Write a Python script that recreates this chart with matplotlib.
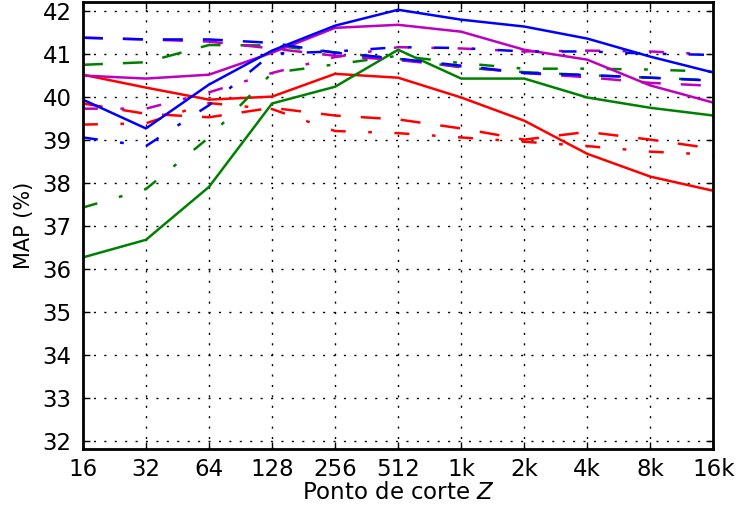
import matplotlib
matplotlib.use("Agg")
import matplotlib.pyplot as plt
import numpy as np

# cut points Z
xlabels = ["16", "32", "64", "128", "256", "512", "1k", "2k", "4k", "8k", "16k"]

# MAP (%) per run
red_solid = [40.51, 40.21, 39.93, 40.0, 40.53, 40.44, 39.98, 39.44, 38.67, 38.14, 37.81]
red_dashed = [39.84, 39.6, 39.52, 39.74, 39.56, 39.47, 39.26, 39.0, 39.18, 39.0, 38.79]
red_dashdot = [39.35, 39.38, 39.85, 39.71, 39.2, 39.15, 39.05, 38.95, 38.85, 38.72, 38.65]

green_solid = [36.26, 36.67, 37.9, 39.84, 40.23, 41.09, 40.42, 40.42, 39.98, 39.74, 39.56]
green_dashed = [40.74, 40.8, 41.2, 41.19, 41.03, 40.88, 40.68, 40.57, 40.5, 40.44, 40.38]
green_dashdot = [37.42, 37.85, 39.05, 40.55, 40.75, 40.95, 40.78, 40.65, 40.65, 40.63, 40.58]

magenta_solid = [40.49, 40.42, 40.51, 41.02, 41.6, 41.67, 41.51, 41.09, 40.86, 40.26, 39.86]
magenta_dashed = [41.37, 41.33, 41.28, 41.12, 40.95, 40.85, 40.7, 40.55, 40.45, 40.32, 40.25]
magenta_dashdot = [39.72, 39.72, 40.1, 40.55, 40.92, 41.15, 41.12, 41.05, 41.07, 41.05, 40.98]

blue_solid = [39.93, 39.26, 40.28, 41.07, 41.65, 42.02, 41.79, 41.63, 41.35, 40.93, 40.56]
blue_dashed = [41.37, 41.33, 41.33, 41.25, 41.02, 40.88, 40.72, 40.55, 40.5, 40.44, 40.37]
blue_dashdot = [39.05, 38.85, 39.8, 41.0, 41.05, 41.15, 41.13, 41.05, 41.05, 41.0, 40.97]

fig = plt.figure(figsize=(7.4, 5.07), dpi=100)
ax = fig.add_axes([0.112, 0.114, 0.852, 0.882])

x = np.arange(len(xlabels))
lw = 1.8
dash = (8, 8)
dashdot = (6, 9, 1.5, 9)

series = [
    (red_solid, "r", None), (red_dashed, "r", dash), (red_dashdot, "r", dashdot),
    (green_solid, "g", None), (green_dashed, "g", dash), (green_dashdot, "g", dashdot),
    (magenta_solid, "m", None), (magenta_dashed, "m", dash), (magenta_dashdot, "m", dashdot),
    (blue_solid, "b", None), (blue_dashed, "b", dash), (blue_dashdot, "b", dashdot),
]
colors = {"r": "#ff0000", "g": "#008000", "b": "#0000ff", "m": "#bf00bf"}
for ys, c, d in series:
    line, = ax.plot(x, ys, color=colors[c], lw=lw)
    if d is not None:
        line.set_dashes(d)

ax.set_xlim(0, 10)
ax.set_ylim(31.8, 42.2)
ax.set_xticks(x)
ax.set_xticklabels(xlabels)
ax.set_yticks(np.arange(32, 43, 1))
ax.grid(True, color="black", linestyle=(0, (1.5, 6)), linewidth=1)
ax.tick_params(direction="in", length=5, width=1, top=True, right=True, labelsize=16.5)
ax.tick_params(axis="x", pad=6)
ax.tick_params(axis="y", pad=8)
for s in ax.spines.values():
    s.set_linewidth(2)
ax.set_xlabel("Ponto de corte $Z$", fontsize=16.5, labelpad=0)
ax.set_ylabel("MAP (%)", fontsize=15, labelpad=6)

fig.savefig("out.png", dpi=100)
